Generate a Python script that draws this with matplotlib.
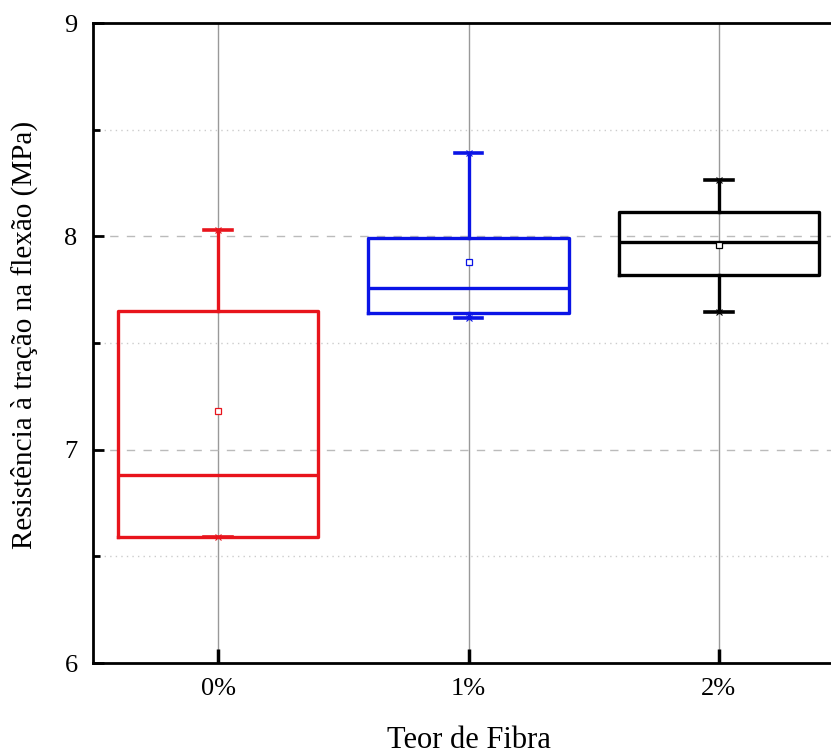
import matplotlib
matplotlib.use("Agg")
import matplotlib.pyplot as plt
from matplotlib.ticker import MultipleLocator

# fibre content groups and their box statistics (MPa)
categories = ["0%", "1%", "2%"]
q1 = [6.59, 7.64, 7.82]
median = [6.88, 7.76, 7.975]
q3 = [7.65, 7.99, 8.115]
whisker_low = [6.59, 7.615, 7.645]
whisker_high = [8.03, 8.39, 8.265]
mean = [7.18, 7.88, 7.96]
colors = ["#e8141c", "#0a14e6", "#000000"]

plt.rcParams["font.family"] = ["Liberation Serif", "DejaVu Serif"]

fig = plt.figure(figsize=(8.31, 7.56), dpi=100)
# plot area runs past the right edge of the figure
ax = fig.add_axes([93 / 831, 1 - 663 / 756, (844 - 93) / 831, (663 - 23) / 756])

positions = list(range(len(categories)))

for i in positions:
    stats = [{
        "med": median[i], "q1": q1[i], "q3": q3[i],
        "whislo": whisker_low[i], "whishi": whisker_high[i],
        "mean": mean[i], "fliers": [],
    }]
    c = colors[i]
    ax.bxp(stats, positions=[i], widths=0.8, capwidths=0.11,
           showmeans=True, showfliers=False, manage_ticks=False,
           boxprops=dict(color=c, linewidth=2.4),
           medianprops=dict(color=c, linewidth=2.4),
           whiskerprops=dict(color=c, linewidth=2.4),
           capprops=dict(color=c, linewidth=2.6),
           meanprops=dict(marker="s", markersize=4.5, markerfacecolor="white",
                          markeredgecolor=c, markeredgewidth=0.9),
           zorder=3)
    ax.plot([i, i], [whisker_low[i], whisker_high[i]], linestyle="none",
            marker="x", markersize=5, markeredgewidth=0.8, color=c, zorder=4)

ax.set_xlim(-0.5, 2.5)
ax.set_ylim(6, 9)
ax.set_xticks(positions)
ax.set_xticklabels(categories, fontsize=19)
ax.yaxis.set_major_locator(MultipleLocator(1))
ax.yaxis.set_minor_locator(MultipleLocator(0.5))
ax.tick_params(axis="y", which="major", direction="in", length=8, width=2,
               labelsize=19, pad=11)
ax.tick_params(axis="y", which="minor", direction="in", length=5, width=2)
ax.tick_params(axis="x", which="major", direction="in", length=10, width=2.5,
               pad=11)
ax.tick_params(top=False, right=False)

for sp in ax.spines.values():
    sp.set_linewidth(2)

# grid: solid verticals, dashed majors, dotted minors
for i in positions:
    ax.axvline(i, color="#999999", linewidth=1, zorder=1)
for y in [7, 8]:
    ax.axhline(y, color="#bbbbbb", linewidth=1, linestyle=(0, (6, 6)), zorder=1)
for y in [6.5, 7.5, 8.5]:
    ax.axhline(y, color="#cccccc", linewidth=1, linestyle=(0, (1, 3)), zorder=1)

fig.text(24 / 831, 1 - 335 / 756, "Resistência à tração na flexão (MPa)",
         fontsize=21, rotation=90, ha="center", va="center")
fig.text(469 / 831, 1 - 740 / 756, "Teor de Fibra", fontsize=22,
         ha="center", va="center")

fig.savefig("out.png", dpi=100)
